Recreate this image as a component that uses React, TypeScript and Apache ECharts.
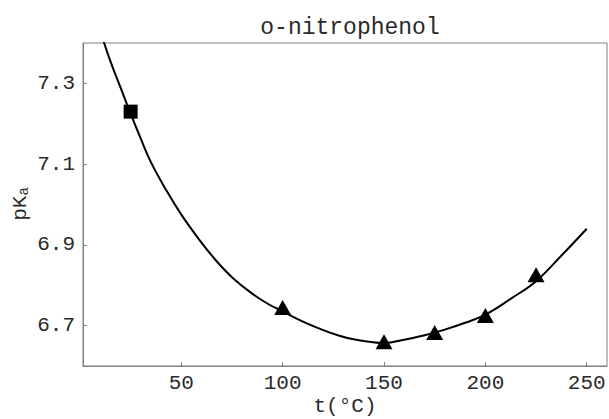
import React, { useEffect, useRef } from "react";
import * as echarts from "echarts";

// Fitted curve
const curveT = [10, 15, 20, 25, 30, 35, 42.6, 50, 59, 67, 75, 84, 92, 100, 110, 120, 128, 135, 143, 150, 160, 170, 180, 190, 200, 213, 225, 238, 250];
const curvePKa = [7.43, 7.355, 7.29, 7.225, 7.163, 7.105, 7.035, 6.975, 6.912, 6.862, 6.82, 6.783, 6.756, 6.735, 6.71, 6.689, 6.675, 6.666, 6.66, 6.657, 6.665, 6.676, 6.69, 6.707, 6.727, 6.768, 6.81, 6.876, 6.94];

// Measured points
const squareT = [25];
const squarePKa = [7.23];
const triT = [100, 150, 175, 200, 225];
const triPKa = [6.745, 6.66, 6.683, 6.725, 6.826];

// Ticks
const xTicks = [50, 100, 150, 200, 250];
const yTicks = [6.7, 6.9, 7.1, 7.3];

const FONT = "Liberation Mono";
const AXIS_COLOR = "#808080";
const TEXT_COLOR = "#2a2a2a";

export default function App() {
  const ref = useRef<HTMLDivElement>(null);
  useEffect(() => {
    document.body.style.margin = "0";
    const chart = echarts.init(ref.current!, null, { renderer: "svg" });
    chart.setOption({
      animation: false,
      backgroundColor: "#ffffff",
      title: {
        text: "o-nitrophenol",
        left: 345,
        textAlign: "center",
        top: 11,
        textStyle: { fontFamily: FONT, fontSize: 23, fontWeight: "normal", color: TEXT_COLOR },
      },
      grid: {
        left: 83,
        top: 43,
        width: 524,
        height: 323,
        show: true,
        borderColor: AXIS_COLOR,
        borderWidth: 1,
        backgroundColor: "transparent",
      },
      xAxis: {
        type: "value",
        min: 1.5,
        max: 260,
        axisLine: { show: true, lineStyle: { color: AXIS_COLOR, width: 1 } },
        axisTick: { show: true, inside: true, length: 4, lineStyle: { color: AXIS_COLOR }, customValues: xTicks },
        axisLabel: {
          customValues: xTicks,
          margin: 7,
          fontFamily: FONT,
          fontSize: 21,
          color: TEXT_COLOR,
        },
        splitLine: { show: false },
      },
      yAxis: {
        type: "value",
        min: 6.6,
        max: 7.4,
        axisLine: { show: true, lineStyle: { color: AXIS_COLOR, width: 1 } },
        axisTick: { show: true, inside: true, length: 4, lineStyle: { color: AXIS_COLOR }, customValues: yTicks },
        axisLabel: {
          customValues: yTicks,
          margin: 8,
          fontFamily: FONT,
          fontSize: 21,
          color: TEXT_COLOR,
          formatter: (v: number) => v.toFixed(1),
        },
        splitLine: { show: false },
      },
      graphic: [
        {
          type: "text",
          x: 20,
          y: 204,
          rotation: Math.PI / 2,
          style: {
            text: "pK{sub|a}",
            fontFamily: FONT,
            fontSize: 21,
            fill: TEXT_COLOR,
            align: "center",
            verticalAlign: "middle",
            rich: {
              sub: { fontFamily: FONT, fontSize: 14, fill: TEXT_COLOR, verticalAlign: "bottom", padding: [8, 0, 0, 0] },
            },
          },
        },
        {
          type: "text",
          x: 345,
          y: 406,
          style: {
            text: "t(°C)",
            fontFamily: FONT,
            fontSize: 21,
            fill: TEXT_COLOR,
            align: "center",
            verticalAlign: "middle",
          },
        },
      ],
      series: [
        {
          type: "line",
          data: curveT.map((t, i) => [t, curvePKa[i]]),
          smooth: 0.4,
          showSymbol: false,
          clip: true,
          lineStyle: { color: "#000", width: 2 },
          z: 2,
        },
        {
          type: "scatter",
          data: squareT.map((t, i) => [t, squarePKa[i]]),
          symbol: "rect",
          symbolSize: 14,
          itemStyle: { color: "#000", opacity: 1 },
          z: 3,
        },
        {
          type: "scatter",
          data: triT.map((t, i) => [t, triPKa[i]]),
          symbol: "triangle",
          symbolSize: [17, 15],
          itemStyle: { color: "#000", opacity: 1 },
          z: 3,
        },
      ],
    });
    return () => chart.dispose();
  }, []);
  return <div ref={ref} style={{ position: "fixed", left: 0, top: 0, width: 609, height: 419 }} />;
}
